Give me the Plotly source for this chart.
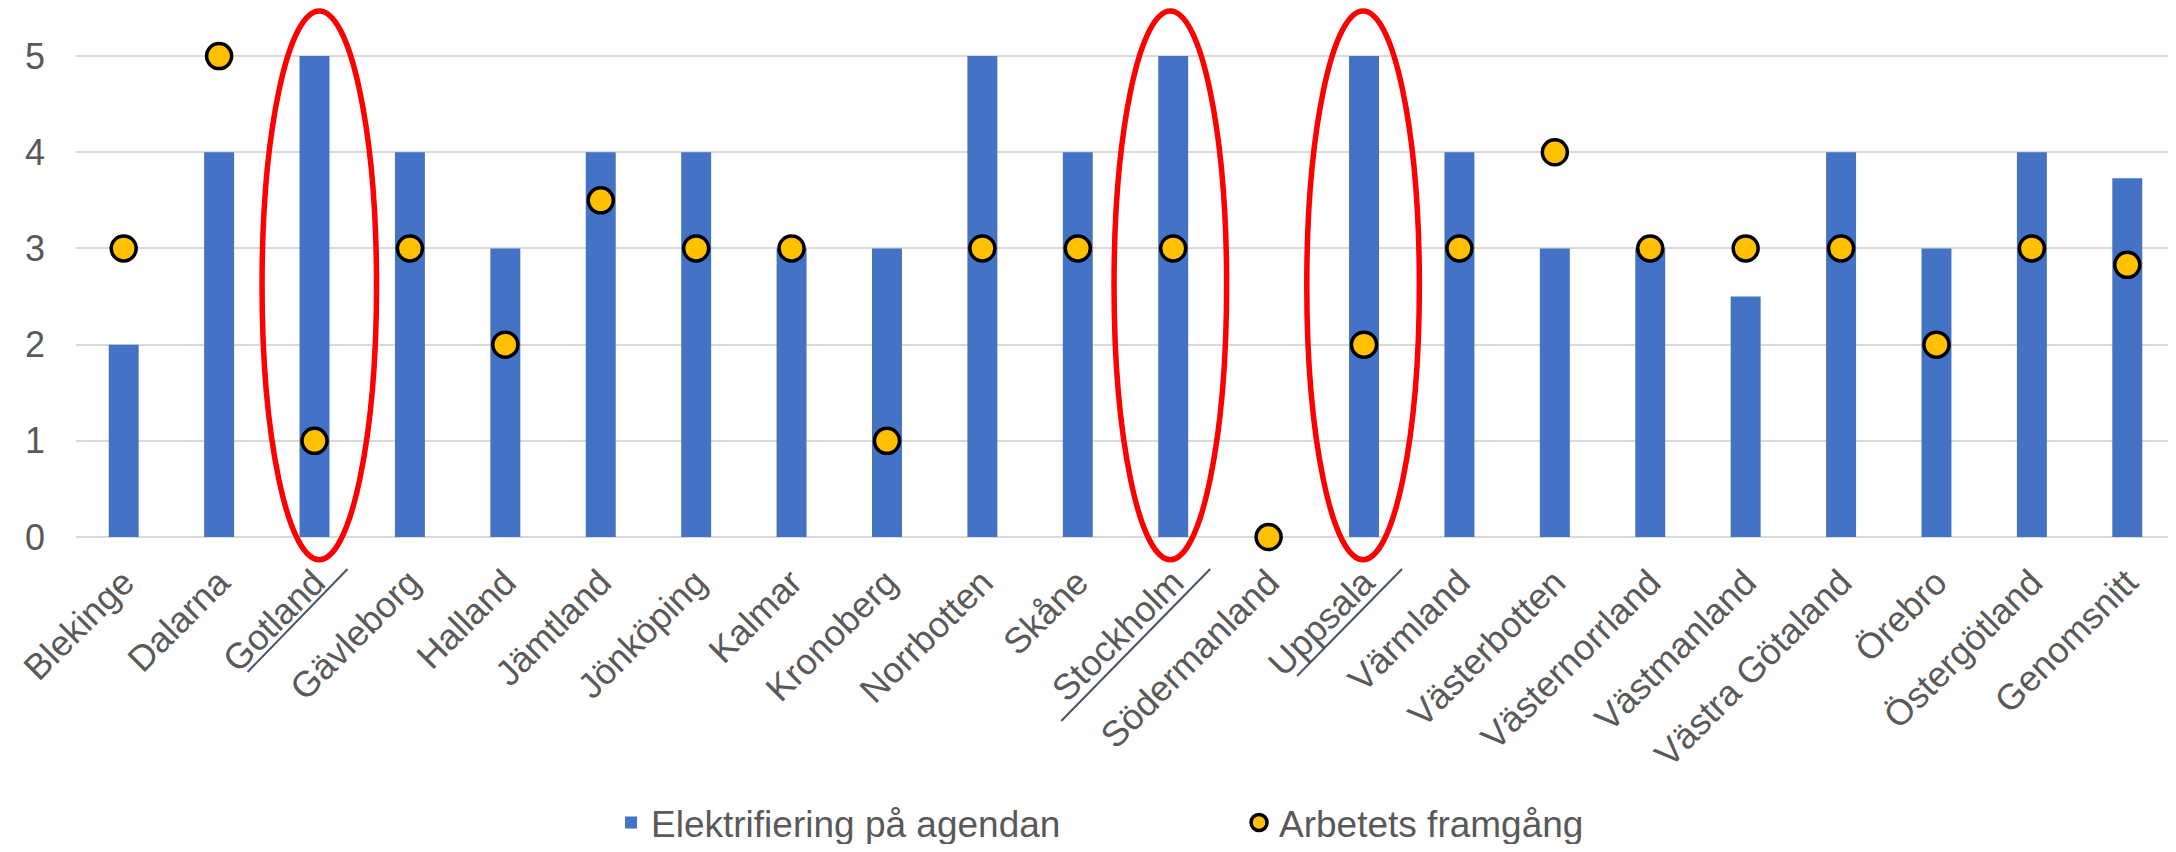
import plotly.graph_objects as go

# ---- data ----
regions = ["Blekinge", "Dalarna", "Gotland", "Gävleborg", "Halland", "Jämtland",
           "Jönköping", "Kalmar", "Kronoberg", "Norrbotten", "Skåne", "Stockholm",
           "Södermanland", "Uppsala", "Värmland", "Västerbotten", "Västernorrland",
           "Västmanland", "Västra Götaland", "Örebro", "Östergötland", "Genomsnitt"]
agenda = [2, 4, 5, 4, 3, 4, 4, 3, 3, 5, 4, 5, None, 5, 4, 3, 3, 2.5, 4, 3, 4, 3.73]
success = [3, 5, 1, 3, 2, 3.5, 3, 3, 1, 3, 3, 3, 0, 2, 3, 4, 3, 3, 3, 2, 3, 2.83]
y_ticks = [0, 1, 2, 3, 4, 5]

highlighted = ["Gotland", "Stockholm", "Uppsala"]

FONT = "Liberation Sans, Arial, sans-serif"
TXT = "#595959"

fig = go.Figure()
fig.add_trace(go.Bar(
    x=regions, y=agenda, name="Elektrifiering på agendan",
    marker=dict(color="#4472C4", line=dict(width=0)),
))
fig.add_trace(go.Scatter(
    x=regions, y=success, name="Arbetets framgång", mode="markers",
    marker=dict(size=25, color="#FFC000", line=dict(color="#000000", width=3.5)),
    cliponaxis=False,
))

# red ellipses around highlighted regions (category-index coordinates)
ell = {"Gotland": (0.05, 0.60), "Stockholm": (-0.03, 0.59), "Uppsala": (-0.01, 0.59)}
# underline offsets (pixels from category centre / plot bottom)
und = {"Gotland": (-67, 33, -109), "Stockholm": (-112, 37, -158), "Uppsala": (-67, 38, -113)}
shapes = []
for name in highlighted:
    i = regions.index(name)
    off, hw = ell[name]
    shapes.append(dict(type="circle", xref="x", yref="y",
                       x0=i + off - hw, x1=i + off + hw, y0=-0.235, y1=5.47,
                       line=dict(color="#FF0000", width=5.5), layer="above"))
    xs, xe, yb = und[name]
    shapes.append(dict(type="line", xref="x", yref="paper",
                       xsizemode="pixel", xanchor=i, x0=xs, x1=xe,
                       ysizemode="pixel", yanchor=0, y0=yb, y1=-6,
                       line=dict(color="#44546A", width=2)))

fig.update_layout(
    width=2168, height=836,
    margin=dict(l=68, r=1, t=0, b=281, autoexpand=False),
    paper_bgcolor="white", plot_bgcolor="white",
    bargap=0.686,
    font=dict(family=FONT, color=TXT, size=36),
    shapes=shapes,
    showlegend=True,
    legend=dict(orientation="h", x=0.2549, xanchor="left", y=-0.4684, yanchor="middle",
                font=dict(size=37, color=TXT, family=FONT),
                entrywidth=583, entrywidthmode="pixels",
                bgcolor="rgba(0,0,0,0)", borderwidth=0),
)
fig.update_xaxes(type="category", range=[-0.5, 21.5], tickangle=-45,
                 showgrid=False, showline=False, ticks="", zeroline=False,
                 automargin=False, ticklabelstandoff=-10,
                 tickfont=dict(size=36, color=TXT, family=FONT))
fig.update_yaxes(range=[-0.27, 5.50], tickvals=y_ticks, showgrid=True,
                 gridcolor="#D9D9D9", gridwidth=2, zeroline=False, showline=False,
                 ticks="", ticklabelstandoff=30, automargin=False,
                 tickfont=dict(size=36, color=TXT, family=FONT))

fig.write_html("out.html")
